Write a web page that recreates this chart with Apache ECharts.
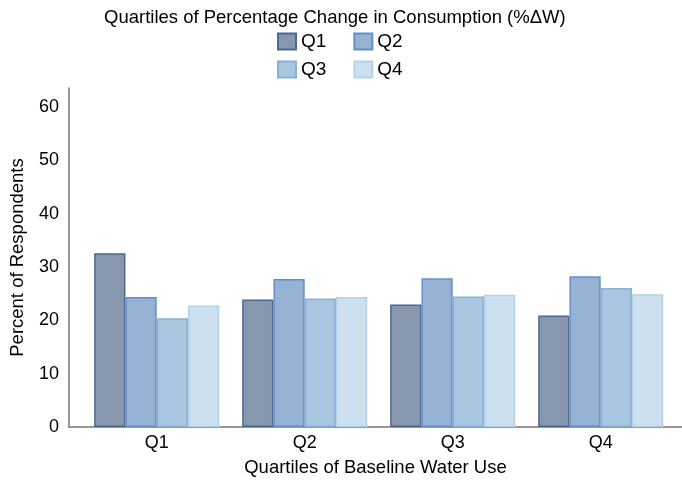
<!DOCTYPE html>
<html><head><meta charset="utf-8">
<script src="https://cdn.jsdelivr.net/npm/echarts@6/dist/echarts.min.js"></script>
<style>html,body{margin:0;padding:0;background:#fff;overflow:hidden}#c{width:682px;height:483px}</style>
</head><body><div id="c"></div>
<script>
const categories = ['Q1', 'Q2', 'Q3', 'Q4'];
const seriesNames = ['Q1', 'Q2', 'Q3', 'Q4'];
const q1Values = [32.6, 23.9, 23.0, 20.9];
const q2Values = [24.4, 27.75, 27.9, 28.3];
const q3Values = [20.4, 24.1, 24.5, 26.1];
const q4Values = [22.8, 24.4, 24.8, 24.9];
const yTicks = [0, 10, 20, 30, 40, 50, 60];

const fills = ['#8797ad', '#95b1d4', '#a8c6e0', '#cde0ef'];
const borders = ['#4d6790', '#6590c6', '#86b1d8', '#b4d2e9'];
const values = [q1Values, q2Values, q3Values, q4Values];
const FONT = 'Liberation Sans, Arial, Helvetica, sans-serif';
const YMAX = 63.6;

const chart = echarts.init(document.getElementById('c'));
chart.setOption({
  animation: false,
  title: {
    text: 'Quartiles of Percentage Change in Consumption (%ΔW)',
    left: 99, top: 3,
    textStyle: {fontFamily: FONT, fontSize: 18.5, fontWeight: 'normal', color: '#000'}
  },
  legend: [
    {data: seriesNames.slice(0, 2), left: 272, top: 27, itemWidth: 18, itemHeight: 16, itemGap: 27,
     icon: 'rect', textStyle: {fontFamily: FONT, fontSize: 19, color: '#000'}, selectedMode: false},
    {data: seriesNames.slice(2, 4), left: 272, top: 55, itemWidth: 18, itemHeight: 16, itemGap: 27,
     icon: 'rect', textStyle: {fontFamily: FONT, fontSize: 19, color: '#000'}, selectedMode: false}
  ],
  grid: [
    {left: 82.7, right: 7.3, top: 88, bottom: 56, outerBoundsMode: 'none', containLabel: false},
    {left: 69, right: 0, top: 88, bottom: 56, outerBoundsMode: 'none', containLabel: false}
  ],
  xAxis: [
    {type: 'category', gridIndex: 0, data: categories,
     axisLine: {show: false}, axisTick: {show: false},
     axisLabel: {fontFamily: FONT, fontSize: 18, color: '#000', margin: 7}},
    {type: 'category', gridIndex: 1, data: categories,
     name: 'Quartiles of Baseline Water Use', nameLocation: 'middle', nameGap: 31,
     nameTextStyle: {fontFamily: FONT, fontSize: 18.5, color: '#000'},
     axisLine: {show: true, lineStyle: {color: '#777', width: 1.5}}, axisTick: {show: false},
     axisLabel: {show: false}}
  ],
  yAxis: [
    {type: 'value', gridIndex: 0, min: 0, max: YMAX, interval: 10, show: false},
    {type: 'value', gridIndex: 1, min: 0, max: YMAX, interval: 10,
     name: 'Percent of Respondents', nameLocation: 'middle', nameGap: 42,
     nameTextStyle: {fontFamily: FONT, fontSize: 18.5, color: '#000'},
     axisLine: {show: true, lineStyle: {color: '#777', width: 1.5}}, axisTick: {show: false},
     splitLine: {show: false},
     axisLabel: {fontFamily: FONT, fontSize: 18, color: '#000', margin: 10, showMaxLabel: false,
       formatter: v => yTicks.includes(v) ? String(v) : ''}}
  ],
  series: seriesNames.map((n, i) => ({
    name: n, type: 'bar', xAxisIndex: 0, yAxisIndex: 0,
    data: values[i], barGap: '0%', barCategoryGap: '15.5%',
    itemStyle: {color: fills[i], borderColor: borders[i], borderWidth: 1.5}
  }))
});
</script></body></html>
